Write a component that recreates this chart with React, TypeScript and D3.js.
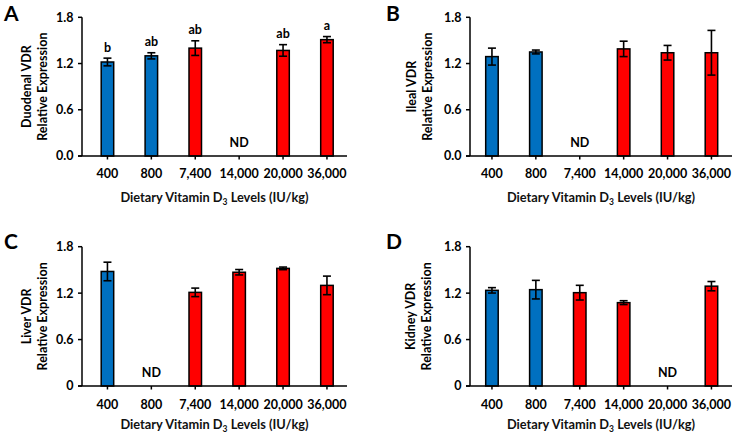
import React from "react";
import * as d3 from "d3";

const categories = ["400", "800", "7,400", "14,000", "20,000", "36,000"];
const doseGroup = ["low", "low", "high", "high", "high", "high"];
const groupColors: Record<string, string> = { low: "#0070C0", high: "#FF0000" };
const yTicks = [0, 0.6, 1.2, 1.8];

const duodenalMean = [1.22, 1.3, 1.4, null, 1.37, 1.51];
const duodenalErr = [0.05, 0.04, 0.095, null, 0.075, 0.04];
const duodenalLetters = ["b", "ab", "ab", "", "ab", "a"];

const ilealMean = [1.29, 1.35, null, 1.39, 1.34, 1.34];
const ilealErr = [0.11, 0.025, null, 0.1, 0.095, 0.29];

const liverMean = [1.48, null, 1.21, 1.47, 1.52, 1.3];
const liverErr = [0.12, null, 0.055, 0.035, 0.017, 0.12];

const kidneyMean = [1.236, 1.245, 1.206, 1.077, null, 1.29];
const kidneyErr = [0.035, 0.12, 0.095, 0.025, null, 0.06];

const FONT = "Lato, 'Open Sans', sans-serif";

type PanelProps = {
  letter: string;
  letterX: number;
  letterY: number;
  organ: string;
  means: (number | null)[];
  errs: (number | null)[];
  sig?: string[];
  x0: number;
  x1: number;
  yTop: number;
  yBot: number;
  bandStart: number;
  zeroLabel: string;
  titleX: number;
  tickDy: number;
  labelDy: number;
};

function Panel(p: PanelProps) {
  const step = 43.9;
  const x = d3
    .scaleBand<string>()
    .domain(categories)
    .range([p.x0 + p.bandStart, p.x0 + p.bandStart + step * categories.length])
    .padding(0);
  const y = d3.scaleLinear().domain([0, 1.8]).range([p.yBot, p.yTop]);
  const bw = 12.5;
  const cx = (c: string) => (x(c) as number) + x.bandwidth() / 2;
  const fmt = (v: number) => (v === 0 ? p.zeroLabel : d3.format(".1f")(v));
  const yMid = (p.yTop + p.yBot) / 2;
  const xMid = (p.x0 + p.x1) / 2;
  return (
    <g fontFamily={FONT}>
      <text x={p.letterX} y={p.letterY} fontSize={21} fontWeight="bold" fill="#000">
        {p.letter}
      </text>
      {/* y title */}
      <g transform={`translate(${p.titleX},${yMid}) rotate(-90)`}>
        <text x={0} y={0} textAnchor="middle" fontSize={12.5} fontWeight="bold">
          {p.organ}
        </text>
        <text x={0} y={15.5} textAnchor="middle" fontSize={12.5} fontWeight="bold">
          Relative Expression
        </text>
      </g>
      {/* bars */}
      {categories.map((c, i) => {
        const m = p.means[i];
        const e = p.errs[i];
        if (m == null) {
          return (
            <text key={c} x={cx(c)} y={p.yBot - 9} textAnchor="middle" fontSize={12.5} fontWeight="bold">
              ND
            </text>
          );
        }
        const top = y(m);
        const eTop = y(m + (e || 0));
        const eBot = y(m - (e || 0));
        return (
          <g key={c}>
            <rect
              x={cx(c) - bw / 2}
              y={top}
              width={bw}
              height={p.yBot - top}
              fill={groupColors[doseGroup[i]]}
              stroke="#000"
              strokeWidth={1.5}
            />
            <line x1={cx(c)} x2={cx(c)} y1={eTop} y2={eBot} stroke="#000" strokeWidth={1.6} />
            <line x1={cx(c) - 4} x2={cx(c) + 4} y1={eTop} y2={eTop} stroke="#000" strokeWidth={1.6} />
            <line x1={cx(c) - 4} x2={cx(c) + 4} y1={eBot} y2={eBot} stroke="#000" strokeWidth={1.6} />
            {p.sig && p.sig[i] ? (
              <text x={cx(c)} y={eTop - 6.5} textAnchor="middle" fontSize={12.5} fontWeight="bold">
                {p.sig[i]}
              </text>
            ) : null}
          </g>
        );
      })}
      {/* y axis */}
      <line x1={p.x0} x2={p.x0} y1={p.yTop} y2={p.yBot} stroke="#000" strokeWidth={1.5} />
      {yTicks.map((t) => (
        <g key={t}>
          <line x1={p.x0 - 4} x2={p.x0} y1={y(t)} y2={y(t)} stroke="#000" strokeWidth={1.5} />
          <text x={p.x0 - 8.5} y={y(t)} dy="0.35em" textAnchor="end" fontSize={12.5} fontWeight="bold">
            {fmt(t)}
          </text>
        </g>
      ))}
      {/* x axis */}
      <line x1={p.x0 - 4} x2={p.x1} y1={p.yBot} y2={p.yBot} stroke="#000" strokeWidth={1.5} />
      {categories.map((c) => (
        <g key={c}>
          <line x1={cx(c)} x2={cx(c)} y1={p.yBot} y2={p.yBot + 3.5} stroke="#000" strokeWidth={1.5} />
          <text x={cx(c)} y={p.yBot + p.tickDy} textAnchor="middle" fontSize={12.5} fontWeight="bold">
            {c}
          </text>
        </g>
      ))}
      <text x={xMid} y={p.yBot + p.labelDy} textAnchor="middle" fontSize={12.8} fontWeight="bold" fill="#111">
        Dietary Vitamin D
        <tspan fontSize={8.5} dy={3}>3</tspan>
        <tspan dy={-3}> Levels (IU/kg)</tspan>
      </text>
    </g>
  );
}

export default function App() {
  return (
    <svg width={733} height={434} style={{ position: "absolute", left: 0, top: 0, background: "#fff" }}>
      <rect width={733} height={434} fill="#fff" />
      <Panel
        letter="A" letterX={4} letterY={21} organ="Duodenal VDR"
        means={duodenalMean} errs={duodenalErr} sig={duodenalLetters}
        x0={82} x1={347} yTop={17.3} yBot={156} bandStart={3.5} zeroLabel="0.0" titleX={31}
        tickDy={21.5} labelDy={45.5}
      />
      <Panel
        letter="B" letterX={386} letterY={21} organ="Ileal VDR"
        means={ilealMean} errs={ilealErr}
        x0={470} x1={732} yTop={17.3} yBot={156} bandStart={0} zeroLabel="0.0" titleX={416}
        tickDy={21.5} labelDy={45.5}
      />
      <Panel
        letter="C" letterX={4} letterY={249} organ="Liver VDR"
        means={liverMean} errs={liverErr}
        x0={82} x1={347} yTop={246.7} yBot={386} bandStart={3.5} zeroLabel="0" titleX={31}
        tickDy={23} labelDy={43}
      />
      <Panel
        letter="D" letterX={386} letterY={249} organ="Kidney VDR"
        means={kidneyMean} errs={kidneyErr}
        x0={470} x1={732} yTop={246.7} yBot={386} bandStart={0} zeroLabel="0" titleX={415}
        tickDy={23} labelDy={43}
      />
    </svg>
  );
}
